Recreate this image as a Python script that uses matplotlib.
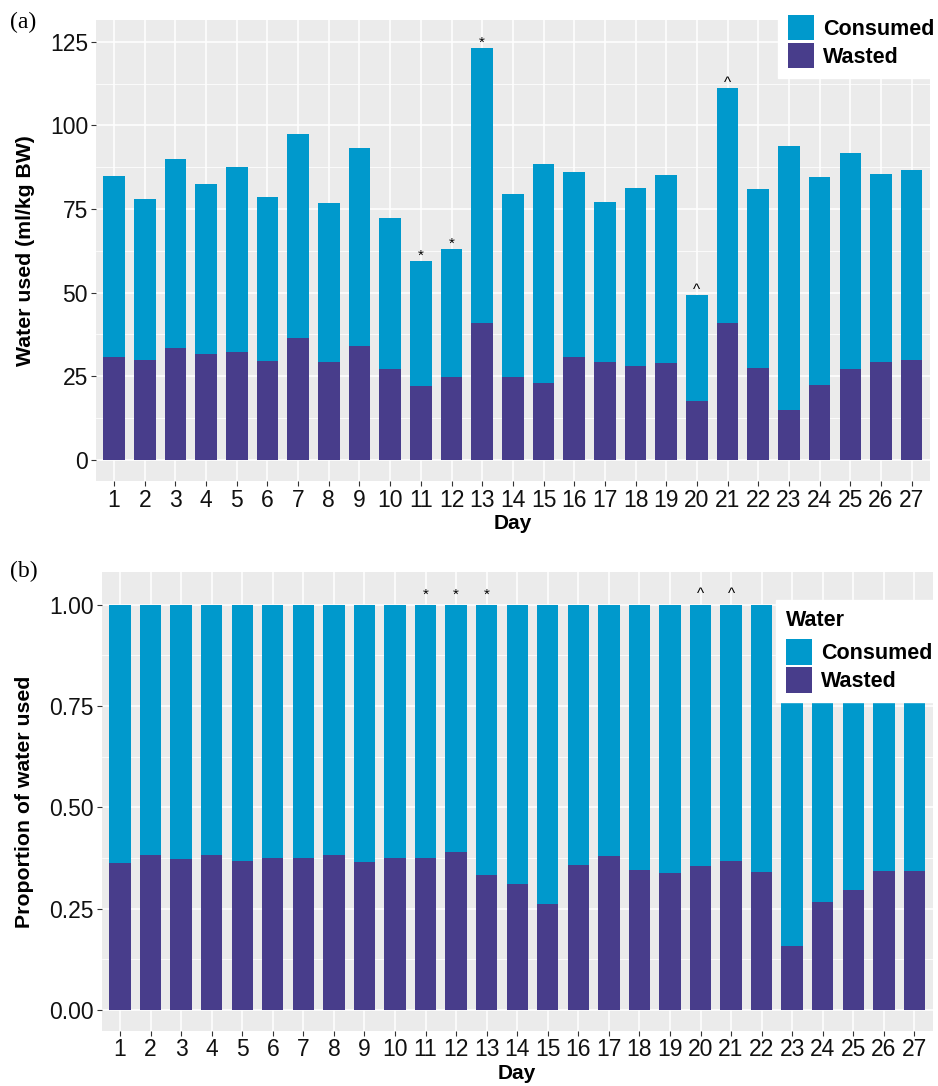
import matplotlib
matplotlib.use('Agg')
import matplotlib.pyplot as plt
from matplotlib.patches import Patch
import numpy as np

plt.rcParams['font.family'] = ['Liberation Sans', 'DejaVu Sans']

# data
days = list(range(1, 28))
wasted = [30.9, 29.9, 33.5, 31.7, 32.4, 29.6, 36.4, 29.3, 34.1, 27.1, 22.2, 24.7, 41.0, 24.8,
          23.1, 30.8, 29.4, 28.2, 29.0, 17.5, 41.0, 27.6, 15.0, 22.4, 27.2, 29.3, 29.9]
consumed = [53.9, 48.2, 56.5, 50.8, 55.2, 49.0, 60.9, 47.4, 59.1, 45.2, 37.3, 38.4, 82.1, 54.8,
            65.3, 55.2, 47.8, 53.0, 56.1, 31.8, 70.3, 53.4, 78.8, 62.1, 64.5, 56.1, 56.9]
prop_wasted = [0.364, 0.382, 0.372, 0.383, 0.369, 0.376, 0.374, 0.383, 0.365, 0.374, 0.374, 0.389,
               0.333, 0.311, 0.261, 0.357, 0.380, 0.346, 0.339, 0.356, 0.367, 0.340, 0.159, 0.266,
               0.295, 0.342, 0.343]
prop_consumed = [0.636, 0.618, 0.628, 0.617, 0.631, 0.624, 0.626, 0.617, 0.635, 0.626, 0.626, 0.611,
                 0.667, 0.689, 0.739, 0.643, 0.620, 0.654, 0.661, 0.644, 0.633, 0.660, 0.841, 0.734,
                 0.705, 0.658, 0.657]
marks = {11: '*', 12: '*', 13: '*', 20: '^', 21: '^'}

c_consumed = '#0099CC'
c_wasted = '#483D8B'
bg = '#EBEBEB'

W, H = 938, 1086
fig = plt.figure(figsize=(W / 100, H / 100), dpi=100)


def px_axes(left, top, right, bottom):
    return fig.add_axes([left / W, 1 - bottom / H, (right - left) / W, (bottom - top) / H])


def style(ax, yticks, minor, ylim):
    ax.set_facecolor(bg)
    ax.set_xlim(0.4, 27.6)
    ax.set_ylim(*ylim)
    ax.set_xticks(days)
    ax.set_xticklabels([str(d) for d in days])
    ax.set_yticks(yticks)
    ax.set_yticks(minor, minor=True)
    ax.grid(True, which='major', color='white', linewidth=1.1)
    ax.grid(True, which='minor', axis='y', color='white', linewidth=0.55)
    ax.set_axisbelow(True)
    for s in ax.spines.values():
        s.set_visible(False)
    ax.tick_params(axis='both', which='major', direction='out', length=3.5, width=0.8,
                   color='#333333', labelsize=16.5, labelcolor='#111111', pad=2)
    ax.tick_params(axis='y', which='minor', length=0)
    ax.set_xlabel('Day', fontsize=15, fontweight='bold', labelpad=2)


def legend(ax, anchor, title=None):
    handles = [Patch(facecolor=c_consumed, edgecolor='none', label='Consumed'),
               Patch(facecolor=c_wasted, edgecolor='none', label='Wasted')]
    leg = ax.legend(handles=handles, loc='upper left', bbox_to_anchor=anchor,
                    bbox_transform=fig.transFigure, frameon=True, fancybox=False,
                    framealpha=1, edgecolor='white', facecolor='white',
                    prop={'size': 15.5, 'weight': 'bold'}, handlelength=1.2, handleheight=1.46,
                    handletextpad=0.45, labelspacing=0.1, borderpad=0.45, borderaxespad=0,
                    title=title, title_fontproperties={'size': 15.5, 'weight': 'bold'},
                    alignment='left')
    if title:
        leg._legend_box.sep = 6
    leg.set_zorder(10)
    return leg


# panel (a)
ax1 = px_axes(95.7, 20, 930, 481)
ax1.bar(days, wasted, width=0.7, color=c_wasted, zorder=2)
ax1.bar(days, consumed, width=0.7, bottom=wasted, color=c_consumed, zorder=2)
for d, m in marks.items():
    i = days.index(d)
    ax1.text(d, wasted[i] + consumed[i] + 0.3, m, ha='center', va='baseline', fontsize=11)
style(ax1, [0, 25, 50, 75, 100, 125], [12.5, 37.5, 62.5, 87.5, 112.5], (-6.3, 131.5))
ax1.set_ylabel('Water used (ml/kg BW)', fontsize=15.3, fontweight='bold')
ax1.yaxis.set_label_coords(-0.073, 0.5)
legend(ax1, (778 / W, 1 - 5 / H))
fig.text(10 / W, 1 - 28 / H, '(a)', family='Liberation Serif', fontsize=17)

# panel (b)
ax2 = px_axes(101.7, 572, 932.7, 1030.7)
ax2.bar(days, prop_wasted, width=0.7, color=c_wasted, zorder=2)
ax2.bar(days, prop_consumed, width=0.7, bottom=prop_wasted, color=c_consumed, zorder=2)
for d, m in marks.items():
    ax2.text(d, 1.016, m, ha='center', va='baseline', fontsize=11)
style(ax2, [0, 0.25, 0.5, 0.75, 1.0], [0.125, 0.375, 0.625, 0.875], (-0.051, 1.081))
ax2.set_yticklabels(['0.00', '0.25', '0.50', '0.75', '1.00'])
ax2.set_ylabel('Proportion of water used', fontsize=15.3, fontweight='bold')
ax2.yaxis.set_label_coords(-0.0815, 0.5)
legend(ax2, (776 / W, 1 - 600 / H), title='Water')
fig.text(10 / W, 1 - 577 / H, '(b)', family='Liberation Serif', fontsize=17)

fig.savefig('out.png', dpi=100)
